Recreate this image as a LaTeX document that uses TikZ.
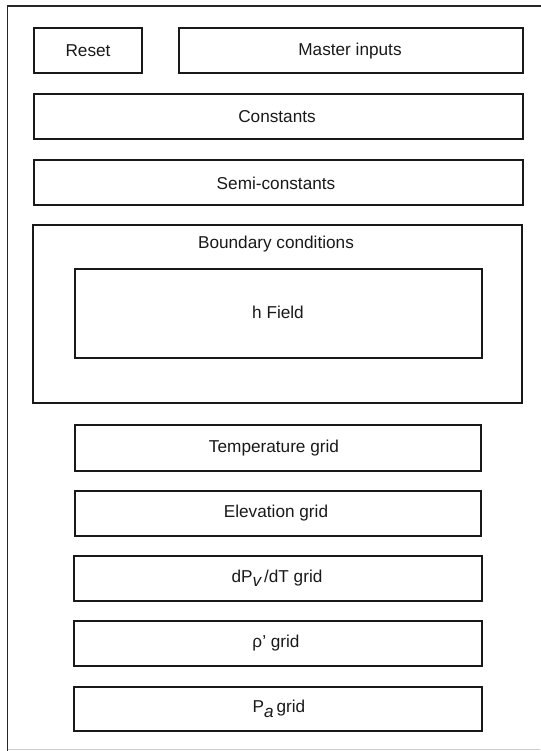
\documentclass[tikz,border=0pt]{standalone}
\usepackage{fontspec}
\setmainfont{Liberation Sans}
\begin{document}
\begin{tikzpicture}[x=1pt,y=-1pt,
  panel/.style={draw=black!90, line width=1.9pt, rectangle},
  lbl/.style={font=\fontsize{17.2}{20}\selectfont, text=black!90, inner sep=0pt}]
\useasboundingbox (0,0) rectangle (540,751);
% outer frame (only top and left edges fall inside the page)
\draw[line width=1.6pt, black!85] (7.5,760) -- (7.5,6) -- (560,6);
\draw[line width=1pt, black!20] (7.5,749) -- (540,749);

% top row
\draw[panel] (34,28) rectangle (142,73);
\node[lbl] (reset) at (88,51) {Reset};
\draw[panel] (179,28) rectangle (523,73);
\node[lbl] (master) at (350,51) {Master inputs};

\draw[panel] (34,94) rectangle (523,139);
\node[lbl] (const) at (277,117) {Constants};

\draw[panel] (34,160) rectangle (523,205);
\node[lbl] (semi) at (276,183) {Semi-constants};

% boundary conditions with nested h field
\draw[panel] (33,225) rectangle (522,403);
\node[lbl] (bc) at (276,244) {Boundary conditions};
\draw[panel] (75,269) rectangle (482,358);
\node[lbl] (hfield) at (278,312) {h Field};

% grids
\draw[panel] (75,425) rectangle (481,471);
\node[lbl] (temp) at (274,448) {Temperature grid};
\draw[panel] (75,491) rectangle (481,536);
\node[lbl] (elev) at (276,513) {Elevation grid};
\draw[panel] (74,556) rectangle (482,601);
\node[lbl] (dpv) at (277,578) {dP\raisebox{-4pt}{\itshape v}\,/dT grid};
\draw[panel] (74,621) rectangle (482,666);
\node[lbl] (rho) at (276,643) {ρ' grid};
\draw[panel] (74,687) rectangle (482,731);
\node[lbl] (pa) at (279,709) {P\raisebox{-4.5pt}{\itshape a}\,grid};
\end{tikzpicture}
\end{document}
